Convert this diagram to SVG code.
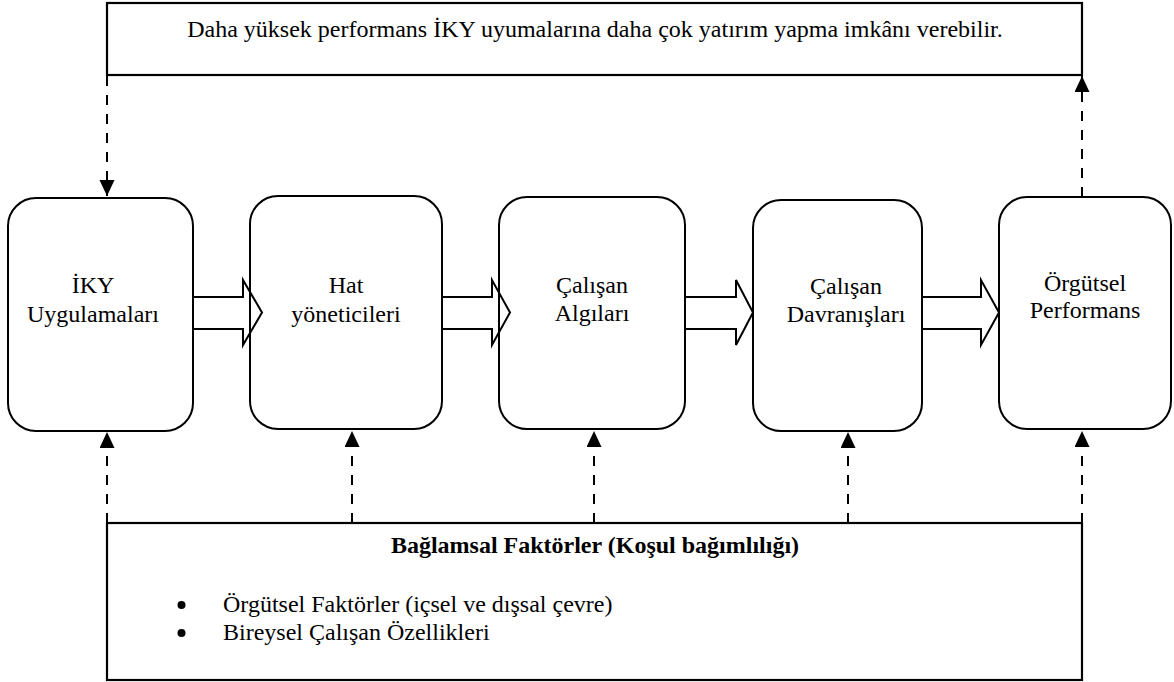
<svg xmlns="http://www.w3.org/2000/svg" width="1174" height="682" viewBox="0 0 1174 682" font-family="'Liberation Serif', 'Times New Roman', 'DejaVu Serif', serif">
<style>
text{font-family:'Liberation Serif','Times New Roman','DejaVu Serif',serif;font-size:24px;fill:#000}
.c{text-anchor:middle}
.b{font-weight:bold}
.box{fill:#fff;stroke:#000;stroke-width:2.2}
.node{fill:#fff;stroke:#000;stroke-width:2}
.blk{fill:none;stroke:#000;stroke-width:2;stroke-linejoin:miter}
.dash{fill:none;stroke:#000;stroke-width:2;stroke-dasharray:10 9}
</style>
<defs>
<marker id="ah" markerUnits="userSpaceOnUse" markerWidth="16" markerHeight="16" refX="16" refY="7.5" orient="auto">
<path d="M0,0 L16,7.5 L0,15 z" fill="#000"/>
</marker>
</defs>
<rect width="1174" height="682" fill="#fff"/>
<g id="top-box">
<rect class="box" x="107" y="3" width="975" height="72"/>
<text class="c" x="595" y="37">Daha yüksek performans İKY uyumalarına daha çok yatırım yapma imkânı verebilir.</text>
</g>
<g id="bottom-box">
<rect class="box" x="107" y="523" width="975" height="157"/>
<text class="c b" x="595" y="553">Bağlamsal Faktörler (Koşul bağımlılığı)</text>
<circle cx="181.5" cy="605" r="4"/>
<circle cx="181.5" cy="633" r="4"/>
<text x="223" y="612">Örgütsel Faktörler (içsel ve dışsal çevre)</text>
<text x="223" y="640">Bireysel Çalışan Özellikleri</text>
</g>
<g id="n1">
<rect class="node" x="8" y="198" width="185" height="233" rx="28"/>
<text class="c" x="93" y="293">İKY</text>
<text class="c" x="93" y="322">Uygulamaları</text>
</g>
<g id="n2">
<rect class="node" x="250" y="196" width="192" height="233" rx="28"/>
<text class="c" x="346" y="293">Hat</text>
<text class="c" x="346" y="322">yöneticileri</text>
</g>
<g id="n3">
<rect class="node" x="499" y="197" width="186" height="232" rx="28"/>
<text class="c" x="592" y="293">Çalışan</text>
<text class="c" x="592" y="321">Algıları</text>
</g>
<g id="n4">
<rect class="node" x="753" y="200" width="169" height="231" rx="28"/>
<text class="c" x="846" y="294">Çalışan</text>
<text class="c" x="846" y="322">Davranışları</text>
</g>
<g id="n5">
<rect class="node" x="999" y="197" width="172" height="232" rx="28"/>
<text class="c" x="1085" y="291">Örgütsel</text>
<text class="c" x="1085" y="318">Performans</text>
</g>
<g id="connectors">
<path class="blk" d="M193,297 L243,297 L243,280 L262,312.5 L243,345 L243,329 L193,329"/>
<path class="blk" d="M442,297 L492,297 L492,280 L510,312.5 L492,345 L492,329 L442,329"/>
<path class="blk" d="M685,297 L736,297 L736,280 L753,312.5 L736,345 L736,329 L685,329"/>
<path class="blk" d="M922,297 L981,297 L981,280 L999,312.5 L981,345 L981,329 L922,329"/>
<line class="dash" x1="107" y1="76" x2="107" y2="196" marker-end="url(#ah)"/>
<line class="dash" x1="1082" y1="197" x2="1082" y2="76" marker-end="url(#ah)"/>
<line class="dash" x1="107" y1="523" x2="107" y2="432" marker-end="url(#ah)"/>
<line class="dash" x1="352" y1="523" x2="352" y2="431" marker-end="url(#ah)"/>
<line class="dash" x1="594" y1="523" x2="594" y2="431" marker-end="url(#ah)"/>
<line class="dash" x1="848" y1="523" x2="848" y2="432" marker-end="url(#ah)"/>
<line class="dash" x1="1082" y1="523" x2="1082" y2="431" marker-end="url(#ah)"/>
</g>
</svg>
